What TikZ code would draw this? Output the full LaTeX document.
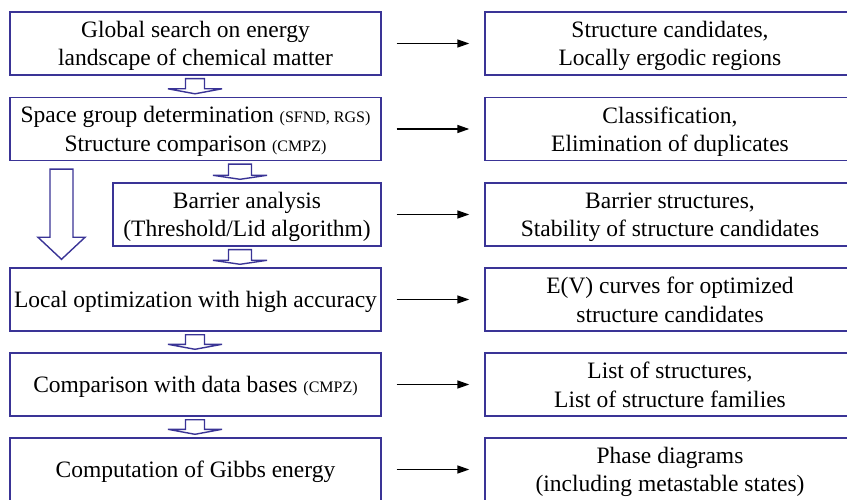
\documentclass[tikz,border=0pt]{standalone}
\usepackage{fontspec}
\setmainfont{Liberation Serif}
\usetikzlibrary{arrows.meta,calc}

\definecolor{frameblue}{RGB}{58,52,150}

\tikzset{
  stepbox/.style={draw=frameblue, line width=1.4pt, align=center,
    minimum height=63pt, inner sep=0pt, text depth=0pt,
    font=\fontsize{23.5}{28.5}\selectfont},
  leftbox/.style={stepbox, minimum width=371pt},
  rightbox/.style={stepbox, minimum width=370pt},
  result/.style={-{Triangle[length=12pt,width=8pt]}, line width=1.5pt,
    shorten <=15pt, shorten >=15pt},
  hollow/.style={draw=frameblue, line width=1.4pt, fill=white, line join=miter}
}

% block arrow: from, to, x centre, shaft half width, head half width, head length, gap
\newcommand{\hollowarrow}[7]{%
  \draw [hollow] let \p1=(#1.south), \p2=(#2.north) in
    ({(#3-#4)*1pt},{\y1-#7pt}) --
    ({(#3+#4)*1pt},{\y1-#7pt}) --
    ({(#3+#4)*1pt},{\y2+#7pt+#6pt}) --
    ({(#3+#5)*1pt},{\y2+#7pt+#6pt}) --
    ({#3*1pt},{\y2+#7pt}) --
    ({(#3-#5)*1pt},{\y2+#7pt+#6pt}) --
    ({(#3-#4)*1pt},{\y2+#7pt+#6pt}) -- cycle;
}

\newcommand{\smallcaps}[1]{{\fontsize{16}{28.5}\selectfont #1}}

\begin{document}
\begin{tikzpicture}[x=1pt, y=-1pt]

  \path [use as bounding box, clip] (0,0) rectangle (847,500);

  % process steps
  \node [leftbox] (search) at (195.5,43.5)
    {Global search on energy\\landscape of chemical matter};
  \node [leftbox] (spacegroup) at (195.5,129)
    {Space group determination \smallcaps{(SFND, RGS)}\\Structure comparison \smallcaps{(CMPZ)}};
  \node [stepbox, minimum width=268pt] (barrier) at (247,214.5)
    {Barrier analysis\\(Threshold/Lid algorithm)};
  \node [leftbox] (localopt) at (195.5,299.5)
    {Local optimization with high accuracy};
  \node [leftbox] (database) at (195.5,384.5)
    {Comparison with data bases \smallcaps{(CMPZ)}};
  \node [leftbox] (gibbs) at (195.5,469.5)
    {Computation of Gibbs energy};

  % results
  \node [rightbox] (candidates) at (670,43.5)
    {Structure candidates,\\Locally ergodic regions};
  \node [rightbox] (classes) at (670,129)
    {Classification,\\Elimination of duplicates};
  \node [rightbox] (barriers) at (670,214.5)
    {Barrier structures,\\Stability of structure candidates};
  \node [rightbox] (curves) at (670,299.5)
    {E(V) curves for optimized\\structure candidates};
  \node [rightbox] (lists) at (670,384.5)
    {List of structures,\\List of structure families};
  \node [rightbox] (phases) at (670,469.5)
    {Phase diagrams\\(including metastable states)};

  % step -> result
  \foreach \a/\b in {search/candidates, spacegroup/classes, barrier/barriers,
                     localopt/curves, database/lists, gibbs/phases}
    \draw [result] (\a.east) -- (\b.west);

  % flow between steps
  \hollowarrow{search}{spacegroup}{195}{9.5}{27}{5}{3}
  \hollowarrow{spacegroup}{barrier}{240}{11.5}{27}{4}{3}
  \hollowarrow{barrier}{localopt}{240}{11.5}{27}{4}{3}
  \hollowarrow{localopt}{database}{195}{9.5}{27}{5}{3}
  \hollowarrow{database}{gibbs}{195}{9.5}{27}{5}{3}
  \hollowarrow{spacegroup}{localopt}{61.5}{11.5}{23.5}{22}{8}

\end{tikzpicture}
\end{document}
